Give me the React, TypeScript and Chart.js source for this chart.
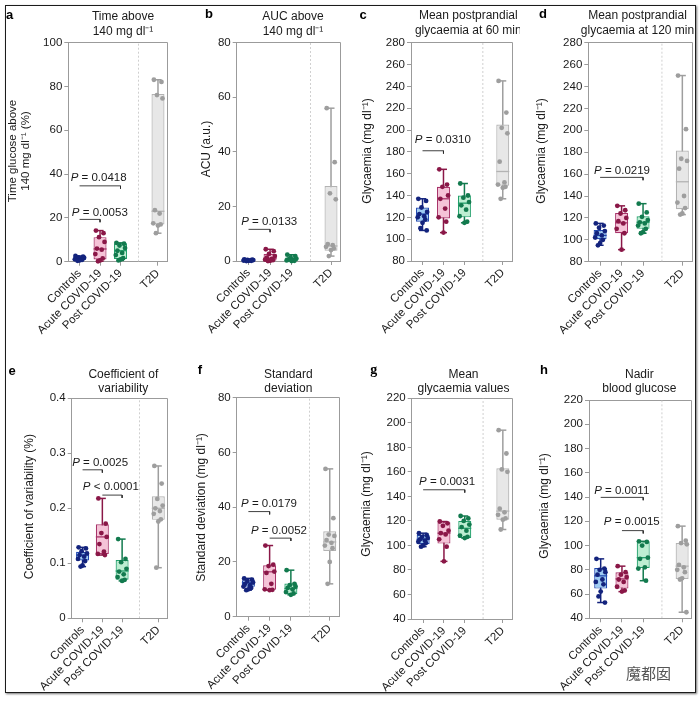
import React, { useEffect, useRef } from "react";
import { Chart, registerables } from "chart.js";

Chart.register(...registerables);

const FONT = "'Liberation Sans', Arial, Helvetica, sans-serif";
Chart.defaults.font.family = FONT;
Chart.defaults.color = "#1a1a1a";

// ---------- shared categories ----------
const GROUPS = ["Controls", "Acute COVID-19", "Post COVID-19", "T2D"];
const X_POS = [1, 2, 3, 4.83];
const X_SEP = 3.88;
const X_MIN = 0.45;
const X_MAX = 5.28;

// ---------- panel a : time above 140 ----------
const A_CTRL = [2.6, 2.3, 2.0, 1.8, 1.5, 1.3, 1.1, 0.9, 0.6, 0.4];
const A_ACUTE = [14.2, 13.0, 11.2, 9.0, 6.0, 5.5, 3.5, 1.5, 0.6, 0.2];
const A_POST = [8.6, 8.2, 7.4, 6.2, 5.0, 4.0, 3.0, 1.6, 1.0, 0.6];
const A_T2D = [83, 82, 76, 74.5, 23.5, 22, 17.5, 17, 16.5, 13];
const A_BOX = [[0.4, 0.9, 1.3, 2.0, 2.6], [0.2, 1.0, 5.8, 11.2, 14.2], [0.6, 1.2, 5.0, 8.4, 8.6], [13, 17, 23, 76.5, 83]];
const A_YTICKS = [0, 20, 40, 60, 80, 100];
const A_P = [
  { from: 0, to: 2, y: 34.6, tx: 1.93, ty: 38.1, label: "= 0.0418" },
  { from: 0, to: 1, y: 19.3, tx: 1.99, ty: 22.3, label: "= 0.0053" },
];

// ---------- panel b : AUC above 140 ----------
const B_CTRL = [0.6, 0.5, 0.4, 0.35, 0.3, 0.2, 0.15, 0.1, 0.05, 0];
const B_ACUTE = [4.3, 3.6, 2.6, 1.8, 1.2, 0.8, 0.5, 0.3, 0.1, 0];
const B_POST = [2.3, 1.8, 1.3, 0.9, 0.6, 0.4, 0.2, 0.1, 0];
const B_T2D = [56, 36.2, 24.8, 22.6, 6.2, 5.8, 5.2, 4.6, 4.0, 1.8];
const B_BOX = [[0, 0.1, 0.25, 0.4, 0.6], [0, 0.2, 1.0, 2.6, 4.3], [0, 0.1, 0.5, 1.3, 2.3], [1.8, 3.8, 5.5, 27.5, 56]];
const B_YTICKS = [0, 20, 40, 60, 80];
const B_P = [{ from: 0, to: 1, y: 11.6, tx: 1.96, ty: 14.4, label: "= 0.0133" }];

// ---------- panel c : postprandial 60 min ----------
const C_CTRL = [137, 135, 129, 125, 123, 121, 120, 118, 115, 110, 108];
const C_ACUTE = [164, 150, 148, 140, 137, 128, 120, 116, 106];
const C_POST = [151, 140, 138, 134, 131, 127, 121, 116, 115];
const C_T2D = [245, 216, 202, 197, 171, 152, 150, 148, 147, 137];
const C_BOX = [[108, 116, 123, 129, 137], [106, 119, 137, 148, 164], [115, 120, 133, 140, 151], [137, 149, 162, 205, 245]];
const C_YTICKS = [80, 100, 120, 140, 160, 180, 200, 220, 240, 260, 280];
const C_P = [{ from: 0, to: 1, y: 181, tx: 1.97, ty: 190.9, label: "= 0.0310" }];

// ---------- panel d : postprandial 120 min ----------
const D_CTRL = [115, 113, 111, 108, 106, 104, 102, 100, 97, 95];
const D_ACUTE = [131, 127, 124, 120, 117, 115, 110, 106, 91];
const D_POST = [133, 125, 121, 118, 116, 115, 113, 110, 107, 106];
const D_T2D = [250, 201, 174, 172, 165, 140, 134, 129, 124, 123];
const D_BOX = [[95, 100.5, 104, 109, 115], [91, 106, 115.5, 124.5, 131], [106, 110, 116, 121.5, 133], [123, 128, 153, 181.5, 250]];
const D_YTICKS = [80, 100, 120, 140, 160, 180, 200, 220, 240, 260, 280];
const D_P = [{ from: 0, to: 2, y: 157, tx: 2.02, ty: 163.1, label: "= 0.0219" }];

// ---------- panel e : coefficient of variability ----------
const E_CTRL = [0.129, 0.127, 0.122, 0.118, 0.115, 0.112, 0.108, 0.104, 0.096, 0.094];
const E_ACUTE = [0.218, 0.172, 0.155, 0.148, 0.135, 0.121, 0.117, 0.115];
const E_POST = [0.144, 0.108, 0.102, 0.09, 0.085, 0.08, 0.075, 0.07, 0.068];
const E_T2D = [0.277, 0.245, 0.217, 0.205, 0.2, 0.195, 0.19, 0.18, 0.176, 0.092];
const E_BOX = [[0.094, 0.105, 0.115, 0.121, 0.129], [0.115, 0.117, 0.148, 0.171, 0.218], [0.068, 0.07, 0.086, 0.106, 0.144], [0.092, 0.179, 0.2, 0.222, 0.277]];
const E_YTICKS = [0, 0.1, 0.2, 0.3, 0.4];
const E_P = [
  { from: 0, to: 1, y: 0.27, tx: 1.89, ty: 0.282, label: "= 0.0025" },
  { from: 1, to: 2, y: 0.224, tx: 2.43, ty: 0.239, label: "< 0.0001" },
];

// ---------- panel f : standard deviation ----------
const F_CTRL = [14.0, 13.5, 13.0, 12.5, 12.0, 11.5, 11.0, 10.5, 10.0, 9.7];
const F_ACUTE = [26, 19, 18.5, 16.5, 16, 12, 10, 9.8, 9.7];
const F_POST = [17, 12, 11.5, 11, 10.5, 10, 9, 8.5, 8];
const F_T2D = [54, 36, 30, 29.5, 28, 27, 26, 25, 20, 12];
const F_BOX = [[9.7, 10.9, 12.4, 13.3, 14], [9.7, 9.8, 16.4, 18.8, 26], [8, 8.2, 10.3, 12.1, 17], [12, 24, 27.3, 31.2, 54]];
const F_YTICKS = [0, 20, 40, 60, 80];
const F_P = [
  { from: 0, to: 1, y: 38.4, tx: 1.97, ty: 41.2, label: "= 0.0179" },
  { from: 1, to: 2, y: 28.7, tx: 2.44, ty: 31.2, label: "= 0.0052" },
];

// ---------- panel g : mean glycaemia ----------
const G_CTRL = [110, 108.5, 107, 106, 105, 104, 103, 102, 100, 99];
const G_ACUTE = [119.5, 118, 116, 112, 110, 109, 105, 99, 87];
const G_POST = [124, 122, 120, 117, 115, 112, 108, 107, 106];
const G_T2D = [194, 175, 162, 160, 130, 127, 125, 122, 121, 113];
const G_BOX = [[99, 101, 105, 108.5, 110], [87, 101.5, 110, 119, 119.5], [106, 106, 114, 120, 124], [113, 121, 128, 163, 194]];
const G_YTICKS = [40, 60, 80, 100, 120, 140, 160, 180, 200, 220];
const G_P = [{ from: 0, to: 2, y: 145.4, tx: 2.15, ty: 152.2, label: "= 0.0031" }];

// ---------- panel h : nadir blood glucose ----------
const H_CTRL = [89, 81, 80, 78, 76, 72, 70, 68, 62, 58, 53];
const H_ACUTE = [83, 78, 76, 74, 72, 70, 66, 63, 62];
const H_POST = [103.5, 103, 100, 90, 89, 82, 81, 71];
const H_T2D = [116, 104, 102, 101, 84, 82, 80, 78, 73, 72, 45];
const H_BOX = [[53, 64.5, 75, 81.5, 89], [62, 64.5, 72.5, 78, 83], [71, 81.5, 90, 103.5, 103.5], [45, 72.5, 83, 102, 116]];
const H_YTICKS = [40, 60, 80, 100, 120, 140, 160, 180, 200, 220];
const H_P = [
  { from: 0, to: 2, y: 139.7, tx: 1.99, ty: 145.2, label: "= 0.0011" },
  { from: 1, to: 2, y: 112.3, tx: 2.46, ty: 119.2, label: "= 0.0015" },
];

// ---------- styles ----------
const POINT_COLORS = ["#13237d", "#8a1747", "#127a4e", "#9e9e9e"];
const BORDER_COLORS = ["#2148b0", "#a8346a", "#22a06b", "#b3b3b3"];
const FILL_COLORS = ["#9fccf3", "#f5c3d7", "#bdeed2", "#e7e7e7"];
const AXIS = "#9b9b9b";
const JITTER = [-0.2, 0.17, -0.05, 0.22, -0.15, 0.08, -0.23, 0.13, 0.0, -0.1, 0.2];

type PVal = { from: number; to: number; y: number; tx: number; ty: number; label: string };
type PanelCfg = {
  cx: number; cy: number; cw: number; ch: number;
  L: number; R: number; T: number; B: number;
  letter: string; letterX: number; letterY: number; letterFont: string;
  title: string[]; titleX: number; titleY: number[];
  ylabel: string[]; ylabelX: number[]; ylabelY: number; ylabelSize: number;
  yMin: number; yMax: number; yTicks: number[];
  groups: number[][]; boxes: number[][]; pvals: PVal[];
};

const BOLD = `bold 13px ${FONT}`;

const PANELS: PanelCfg[] = [
  {
    cx: 0, cy: 0, cw: 175, ch: 350, L: 68.3, R: 173.3, T: 42.5, B: 261.7,
    letter: "a", letterX: 9.5, letterY: 15, letterFont: BOLD,
    title: ["Time above", "140 mg dl⁻¹"], titleX: 123, titleY: [17, 32],
    ylabel: ["Time glucose above", "140 mg dl⁻¹ (%)"], ylabelX: [13, 25.5], ylabelY: 151, ylabelSize: 11.5,
    yMin: 0, yMax: 100, yTicks: A_YTICKS,
    groups: [A_CTRL, A_ACUTE, A_POST, A_T2D], boxes: A_BOX, pvals: A_P,
  },
  {
    cx: 175, cy: 0, cw: 175, ch: 350, L: 236.7, R: 340.7, T: 42.7, B: 261,
    letter: "b", letterX: 209, letterY: 14, letterFont: BOLD,
    title: ["AUC above", "140 mg dl⁻¹"], titleX: 293, titleY: [17, 32],
    ylabel: ["ACU (a.u.)"], ylabelX: [207], ylabelY: 149, ylabelSize: 12,
    yMin: 0, yMax: 80, yTicks: B_YTICKS,
    groups: [B_CTRL, B_ACUTE, B_POST, B_T2D], boxes: B_BOX, pvals: B_P,
  },
  {
    cx: 350, cy: 0, cw: 170, ch: 350, L: 411, R: 515, T: 42.7, B: 261,
    letter: "c", letterX: 363, letterY: 15, letterFont: BOLD,
    title: ["Mean postprandial", "glycaemia at 60 min"], titleX: 468.3, titleY: [15.5, 31],
    ylabel: ["Glycaemia (mg dl⁻¹)"], ylabelX: [367.7], ylabelY: 151, ylabelSize: 12,
    yMin: 80, yMax: 280, yTicks: C_YTICKS,
    groups: [C_CTRL, C_ACUTE, C_POST, C_T2D], boxes: C_BOX, pvals: C_P,
  },
  {
    cx: 520, cy: 0, cw: 180, ch: 350, L: 588.3, R: 692, T: 42.7, B: 261.7,
    letter: "d", letterX: 543, letterY: 14, letterFont: BOLD,
    title: ["Mean postprandial", "glycaemia at 120 min"], titleX: 637.5, titleY: [15.5, 31],
    ylabel: ["Glycaemia (mg dl⁻¹)"], ylabelX: [542], ylabelY: 151, ylabelSize: 12,
    yMin: 80, yMax: 280, yTicks: D_YTICKS,
    groups: [D_CTRL, D_ACUTE, D_POST, D_T2D], boxes: D_BOX, pvals: D_P,
  },
  {
    cx: 0, cy: 350, cw: 175, ch: 352, L: 71.7, R: 173.3, T: 398.3, B: 618.3,
    letter: "e", letterX: 12, letterY: 371, letterFont: BOLD,
    title: ["Coefficient of", "variability"], titleX: 123.3, titleY: [375, 388.5],
    ylabel: ["Coefficient of variability (%)"], ylabelX: [30], ylabelY: 506.7, ylabelSize: 12,
    yMin: 0, yMax: 0.4, yTicks: E_YTICKS,
    groups: [E_CTRL, E_ACUTE, E_POST, E_T2D], boxes: E_BOX, pvals: E_P,
  },
  {
    cx: 175, cy: 350, cw: 175, ch: 352, L: 236.7, R: 339.3, T: 397.7, B: 616.7,
    letter: "f", letterX: 200, letterY: 370.5, letterFont: BOLD,
    title: ["Standard", "deviation"], titleX: 288.3, titleY: [374.5, 388.5],
    ylabel: ["Standard deviation (mg dl⁻¹)"], ylabelX: [201.7], ylabelY: 507.5, ylabelSize: 12,
    yMin: 0, yMax: 80, yTicks: F_YTICKS,
    groups: [F_CTRL, F_ACUTE, F_POST, F_T2D], boxes: F_BOX, pvals: F_P,
  },
  {
    cx: 350, cy: 350, cw: 170, ch: 352, L: 411.7, R: 515, T: 398.3, B: 619,
    letter: "g", letterX: 373.7, letterY: 370, letterFont: "bold 14px 'Liberation Serif', 'Times New Roman', serif",
    title: ["Mean", "glycaemia values"], titleX: 463.5, titleY: [374.5, 389],
    ylabel: ["Glycaemia (mg dl⁻¹)"], ylabelX: [366.7], ylabelY: 504, ylabelSize: 12,
    yMin: 40, yMax: 220, yTicks: G_YTICKS,
    groups: [G_CTRL, G_ACUTE, G_POST, G_T2D], boxes: G_BOX, pvals: G_P,
  },
  {
    cx: 520, cy: 350, cw: 180, ch: 352, L: 589, R: 691.7, T: 400, B: 618.3,
    letter: "h", letterX: 544, letterY: 370, letterFont: BOLD,
    title: ["Nadir", "blood glucose"], titleX: 639.3, titleY: [375, 389],
    ylabel: ["Glycaemia (mg dl⁻¹)"], ylabelX: [545], ylabelY: 506, ylabelSize: 12,
    yMin: 40, yMax: 220, yTicks: H_YTICKS,
    groups: [H_CTRL, H_ACUTE, H_POST, H_T2D], boxes: H_BOX, pvals: H_P,
  },
];

function align(v: number) {
  return Math.round(v + 0.5) - 0.5;
}

function makePlugin(p: PanelCfg) {
  return {
    id: "panelDecor",
    beforeDatasetsDraw(chart: any) {
      const ctx = chart.ctx;
      const ca = chart.chartArea;
      ctx.save();
      ctx.strokeStyle = AXIS;
      ctx.lineWidth = 1;
      ctx.beginPath();
      const top = align(ca.top);
      const right = align(ca.right);
      ctx.moveTo(align(ca.left), top);
      ctx.lineTo(right, top);
      ctx.lineTo(right, align(ca.bottom));
      ctx.stroke();
      ctx.restore();
    },
    afterDraw(chart: any) {
      const ctx = chart.ctx;
      const xs = chart.scales.x;
      const ys = chart.scales.y;
      ctx.save();
      // panel letter
      ctx.font = p.letterFont;
      ctx.textAlign = "center";
      ctx.textBaseline = "middle";
      ctx.fillStyle = "#000";
      ctx.fillText(p.letter, p.letterX - p.cx, p.letterY - p.cy);
      // title
      ctx.fillStyle = "#1a1a1a";
      ctx.font = `12px ${FONT}`;
      p.title.forEach((t, k) => ctx.fillText(t, p.titleX - p.cx, p.titleY[k] - p.cy));
      // y label
      p.ylabel.forEach((t, k) => {
        ctx.save();
        ctx.translate(p.ylabelX[k] - p.cx, p.ylabelY - p.cy);
        ctx.rotate(-Math.PI / 2);
        ctx.textAlign = "center";
        ctx.textBaseline = "middle";
        ctx.font = `${p.ylabelSize}px ${FONT}`;
        ctx.fillText(t, 0, 0);
        ctx.restore();
      });
      // p-values
      for (const pv of p.pvals) {
        const x = xs.getPixelForValue(pv.tx);
        const y = ys.getPixelForValue(pv.ty);
        ctx.font = `italic 11.5px ${FONT}`;
        const w1 = ctx.measureText("P").width;
        const rest = " " + pv.label;
        ctx.font = `11.5px ${FONT}`;
        const w2 = ctx.measureText(rest).width;
        const sx = x - (w1 + w2) / 2;
        ctx.textAlign = "left";
        ctx.textBaseline = "middle";
        ctx.font = `italic 11.5px ${FONT}`;
        ctx.fillText("P", sx, y);
        ctx.font = `11.5px ${FONT}`;
        ctx.fillText(rest, sx + w1, y);
      }
      ctx.restore();
    },
  };
}

function buildConfig(p: PanelCfg) {
  const xAxisH = p.cy + p.ch - p.B;
  const yAxisW = p.L - p.cx;
  const padRight = p.cx + p.cw - p.R;
  const padTop = p.T - p.cy;

  const pts: any[] = [];
  const ptCol: string[] = [];
  p.groups.forEach((g, gi) =>
    g.forEach((v, k) => {
      pts.push({ x: X_POS[gi] + JITTER[k % JITTER.length], y: v });
      ptCol.push(POINT_COLORS[gi]);
    })
  );
  const caps: any[] = [];
  const capCol: string[] = [];
  p.boxes.forEach((b, gi) => {
    caps.push({ x: X_POS[gi], y: b[0] }, { x: X_POS[gi], y: b[4] });
    capCol.push(POINT_COLORS[gi], POINT_COLORS[gi]);
  });
  const medians = p.boxes.map((b, gi) => ({ x: X_POS[gi], y: b[2] }));
  const boxes = p.boxes.map((b, gi) => ({ x: X_POS[gi], y: [b[1], b[3]] }));
  const whiskers = p.boxes.map((b, gi) => ({ x: X_POS[gi], y: [b[0], b[4]] }));
  const tick = (p.yMax - p.yMin) * 0.013;

  const brackets = p.pvals.map((pv) => ({
    type: "line",
    data: [
      { x: X_POS[pv.from], y: pv.y },
      { x: X_POS[pv.to], y: pv.y },
      { x: X_POS[pv.to], y: pv.y - tick },
    ],
    borderColor: "#2b2b2b",
    borderWidth: 0.9,
    pointRadius: 0,
    fill: false,
    tension: 0,
    order: 5,
    clip: false,
  }));

  const datasets: any[] = [
    {
      type: "scatter",
      data: pts,
      pointRadius: 2.4,
      pointBorderWidth: 0,
      pointBackgroundColor: ptCol,
      pointBorderColor: ptCol,
      order: 0,
      clip: false,
    },
    {
      type: "scatter",
      data: medians,
      pointStyle: "line",
      pointRadius: 6.5,
      pointBorderWidth: 1.3,
      pointBorderColor: BORDER_COLORS,
      order: 1,
      clip: false,
    },
    {
      type: "scatter",
      data: caps,
      pointStyle: "line",
      pointRadius: 3.5,
      pointBorderWidth: 1.5,
      pointBorderColor: capCol,
      order: 2,
      clip: false,
    },
    {
      type: "bar",
      data: boxes,
      backgroundColor: FILL_COLORS,
      borderColor: BORDER_COLORS,
      borderWidth: 1.2,
      borderSkipped: false,
      barThickness: 13,
      maxBarThickness: 13,
      grouped: false,
      inflateAmount: 0,
      order: 3,
      clip: false,
    },
    {
      type: "bar",
      data: whiskers,
      backgroundColor: POINT_COLORS,
      borderWidth: 0,
      barThickness: 1.5,
      maxBarThickness: 1.5,
      grouped: false,
      inflateAmount: 0,
      order: 4,
      clip: false,
    },
    ...brackets,
    {
      type: "line",
      data: [
        { x: X_SEP, y: p.yMin },
        { x: X_SEP, y: p.yMax },
      ],
      borderColor: "#c4c4c4",
      borderWidth: 0.8,
      borderDash: [2, 2],
      pointRadius: 0,
      fill: false,
      order: 6,
    },
  ];

  return {
    type: "bar",
    data: { datasets },
    options: {
      responsive: false,
      animation: false,
      events: [],
      layout: { padding: { left: 0, right: padRight, top: padTop, bottom: 0 } },
      plugins: { legend: { display: false }, tooltip: { enabled: false }, title: { display: false } },
      scales: {
        x: {
          type: "linear",
          min: X_MIN,
          max: X_MAX,
          offset: false,
          afterBuildTicks: (s: any) => {
            s.ticks = X_POS.map((v) => ({ value: v }));
          },
          afterFit: (s: any) => {
            s.height = xAxisH;
          },
          ticks: {
            autoSkip: false,
            minRotation: 45,
            maxRotation: 45,
            padding: 1,
            color: "#1a1a1a",
            font: { size: 11.5, family: FONT },
            callback: (_v: any, i: number) => GROUPS[i],
          },
          grid: { display: true, drawOnChartArea: false, drawTicks: true, tickLength: 4, color: AXIS, offset: false },
          border: { display: true, color: AXIS, width: 1 },
        },
        y: {
          type: "linear",
          min: p.yMin,
          max: p.yMax,
          afterBuildTicks: (s: any) => {
            s.ticks = p.yTicks.map((v) => ({ value: v }));
          },
          afterFit: (s: any) => {
            s.width = yAxisW;
          },
          ticks: {
            padding: 2,
            color: "#1a1a1a",
            font: { size: 11.5, family: FONT },
            callback: (_v: any, i: number) => String(p.yTicks[i]),
          },
          grid: { display: true, drawOnChartArea: false, drawTicks: true, tickLength: 4, color: AXIS },
          border: { display: true, color: AXIS, width: 1 },
        },
      },
    },
    plugins: [makePlugin(p)],
  };
}

function PanelChart({ p }: { p: PanelCfg }) {
  const ref = useRef<HTMLCanvasElement>(null);
  useEffect(() => {
    const chart = new Chart(ref.current as HTMLCanvasElement, buildConfig(p) as any);
    return () => chart.destroy();
  }, [p]);
  return (
    <canvas
      ref={ref}
      width={p.cw}
      height={p.ch}
      style={{ position: "absolute", left: p.cx, top: p.cy, width: p.cw, height: p.ch }}
    />
  );
}

export default function App() {
  return (
    <div
      style={{
        position: "absolute",
        left: 0,
        top: 0,
        width: 700,
        height: 702,
        background: "#fff",
        overflow: "hidden",
      }}
    >
      {PANELS.map((p, i) => (
        <PanelChart key={i} p={p} />
      ))}
      <div
        style={{
          position: "absolute",
          left: 626,
          top: 662,
          font: "15px 'Noto Sans CJK SC', sans-serif",
          color: "#555",
        }}
      >
        魔都囡
      </div>
      <div
        style={{
          position: "absolute",
          left: 5,
          top: 5,
          width: 691,
          height: 688,
          boxSizing: "border-box",
          border: "1.5px solid #1c1c1c",
          boxShadow: "1px 1px 2px rgba(0,0,0,0.55)",
          pointerEvents: "none",
        }}
      />
    </div>
  );
}
